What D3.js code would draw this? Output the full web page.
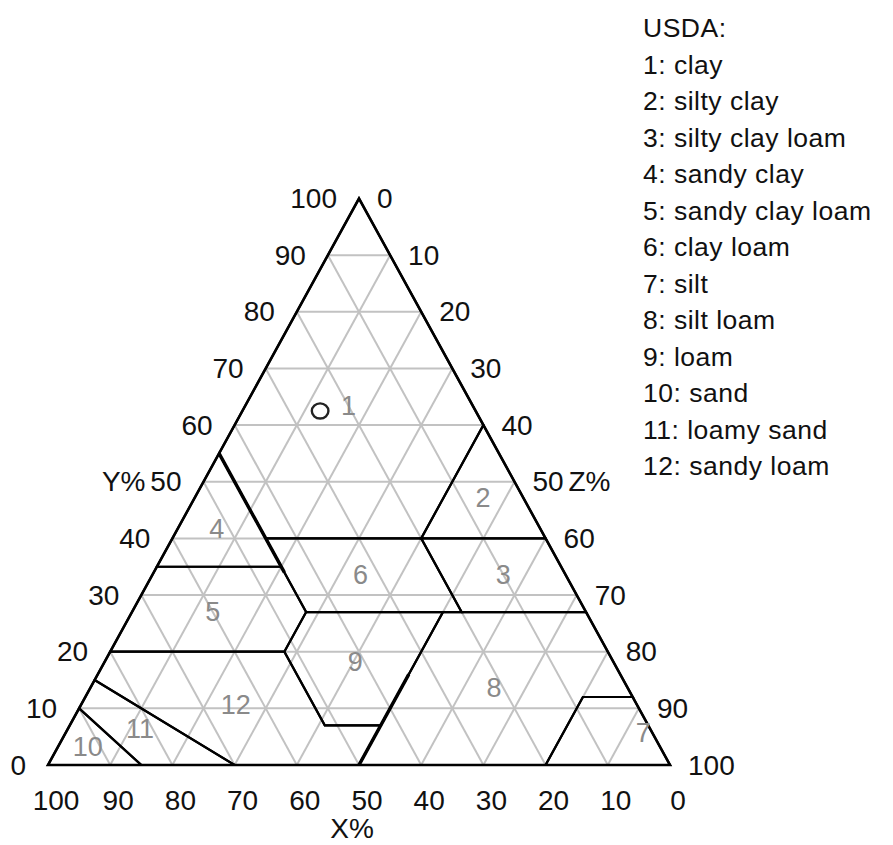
<!DOCTYPE html>
<html>
<head>
<meta charset="utf-8">
<script src="https://cdn.jsdelivr.net/npm/d3@7"></script>
<style>
  html, body { margin: 0; padding: 0; background: #fff; }
  svg { display: block; }
  text { font-family: "Liberation Sans", Arial, sans-serif; }
</style>
</head>
<body>
<script>
// ---- data ----
const ticks = [0, 10, 20, 30, 40, 50, 60, 70, 80, 90, 100];
const gridSteps = [10, 20, 30, 40, 50, 60, 70, 80, 90];
const axisTitles = ["X%", "Y%", "Z%"];
const legendTitle = "USDA:";
const classIds = [1, 2, 3, 4, 5, 6, 7, 8, 9, 10, 11, 12];
const classNames = ["clay", "silty clay", "silty clay loam", "sandy clay", "sandy clay loam",
  "clay loam", "silt", "silt loam", "loam", "sand", "loamy sand", "sandy loam"];
// class boundaries as [X (sand), Y (clay)] vertices; Z (silt) = 100 - X - Y
const classPolygons = [
  [[0, 100], [45, 55], [45, 40], [20, 40], [0, 60]],
  [[0, 60], [20, 40], [0, 40]],
  [[0, 40], [20, 40], [20, 27], [0, 27]],
  [[45, 55], [65, 35], [45, 35]],
  [[65, 35], [45, 35], [45, 27], [52, 20], [80, 20]],
  [[45, 40], [20, 40], [20, 27], [45, 27]],
  [[20, 0], [0, 0], [0, 12], [8, 12]],
  [[50, 0], [20, 0], [8, 12], [0, 12], [0, 27], [23, 27]],
  [[45, 27], [23, 27], [43, 7], [52, 7], [52, 20]],
  [[100, 0], [90, 10], [85, 0]],
  [[90, 10], [85, 15], [70, 0], [85, 0]],
  [[85, 15], [80, 20], [52, 20], [52, 7], [43, 7], [50, 0], [70, 0]]
];
// boundary stretches that appear heavier in the reference
const heavyBoundaries = [
  [[45, 55], [45, 34]],
  [[50, 0], [34, 16]]
];
// class number label anchors [X, Y]
const classLabelAnchors = [
  [20, 63.4], [6.5, 47.1], [10, 33.6], [52, 41.7], [60, 27], [33, 33.5],
  [1.5, 5.6], [21.5, 13.6], [41.5, 18.2], [92, 3.2], [82, 6.4], [64.5, 10.6]
];
// sample point
const sampleX = [25];
const sampleY = [62.5];

// ---- layout ----
const W = 893, H = 845;
const svg = d3.select("body").append("svg").attr("width", W).attr("height", H);

const baseScale = d3.scaleLinear().domain([0, 100]).range([48, 670]); // Z + Y/2
const yScale = d3.scaleLinear().domain([0, 100]).range([765, 198.5]);  // Y (clay)

function pt(x, y) {
  const z = 100 - x - y;
  return [baseScale(z + y / 2), yScale(y)];
}
const line = d3.line();

// grid
const gridG = svg.append("g").attr("stroke", "#c2c2c2").attr("stroke-width", 2).attr("fill", "none");
gridSteps.forEach(v => {
  gridG.append("path").attr("d", line([pt(100 - v, v), pt(0, v)]));      // constant Y
  gridG.append("path").attr("d", line([pt(v, 0), pt(v, 100 - v)]));      // constant X
  gridG.append("path").attr("d", line([pt(100 - v, 0), pt(0, 100 - v)])); // constant Z
});

// class boundaries
svg.append("g").selectAll("path").data(classPolygons).join("path")
  .attr("d", d => line(d.map(p => pt(p[0], p[1]))) + "Z")
  .attr("fill", "none").attr("stroke", "#000").attr("stroke-width", 2.2)
  .attr("stroke-linejoin", "miter");
svg.append("g").selectAll("path").data(heavyBoundaries).join("path")
  .attr("d", d => line(d.map(p => pt(p[0], p[1]))))
  .attr("fill", "none").attr("stroke", "#000").attr("stroke-width", 3.4);

// outer triangle
svg.append("path")
  .attr("d", line([pt(100, 0), pt(0, 0), pt(0, 100)]) + "Z")
  .attr("fill", "none").attr("stroke", "#000").attr("stroke-width", 2.6);

// class labels
svg.append("g").selectAll("text").data(classIds).join("text")
  .attr("x", (d, i) => pt(...classLabelAnchors[i])[0])
  .attr("y", (d, i) => pt(...classLabelAnchors[i])[1])
  .attr("text-anchor", "middle").attr("dominant-baseline", "central")
  .attr("font-size", 27).attr("fill", "#8a8a8a")
  .text(d => d);

// sample point
svg.append("g").selectAll("ellipse").data(sampleX).join("ellipse")
  .attr("cx", (d, i) => pt(d, sampleY[i])[0])
  .attr("cy", (d, i) => pt(d, sampleY[i])[1])
  .attr("rx", 8.3).attr("ry", 7.6)
  .attr("fill", "none").attr("stroke", "#222").attr("stroke-width", 2.4);

// axis tick labels
const fs = 28;
const axG = svg.append("g").attr("font-size", fs).attr("fill", "#111");
// bottom (X): 100 at left
axG.selectAll(".bx").data(ticks).join("text").attr("class", "bx")
  .attr("x", d => pt(d, 0)[0] + 8).attr("y", 810)
  .attr("text-anchor", "middle").text(d => d);
// left (Y)
axG.selectAll(".ly").data(ticks).join("text").attr("class", "ly")
  .attr("x", d => pt(100 - d, d)[0] - 22).attr("y", d => pt(100 - d, d)[1])
  .attr("text-anchor", "end").attr("dominant-baseline", "central").text(d => d);
// right (Z): 0 at top
axG.selectAll(".rz").data(ticks).join("text").attr("class", "rz")
  .attr("x", d => pt(0, 100 - d)[0] + 18).attr("y", d => pt(0, 100 - d)[1])
  .attr("text-anchor", "start").attr("dominant-baseline", "central").text(d => d);

// axis titles
axG.append("text").attr("x", pt(50, 0)[0] - 7).attr("y", 838).attr("text-anchor", "middle").text(axisTitles[0]);
axG.append("text").attr("x", pt(50, 50)[0] - 58).attr("y", pt(50, 50)[1])
  .attr("text-anchor", "end").attr("dominant-baseline", "central").text(axisTitles[1]);
axG.append("text").attr("x", pt(0, 50)[0] + 54).attr("y", pt(0, 50)[1])
  .attr("text-anchor", "start").attr("dominant-baseline", "central").text(axisTitles[2]);

// legend
const lg = svg.append("g").attr("font-size", 26.5).attr("fill", "#111");
const legendLines = [legendTitle].concat(classIds.map((id, i) => id + ": " + classNames[i]));
lg.selectAll("text").data(legendLines).join("text")
  .attr("x", 643).attr("y", (d, i) => 37 + i * 36.5)
  .attr("letter-spacing", 0.5)
  .text(d => d);
</script>
</body>
</html>
